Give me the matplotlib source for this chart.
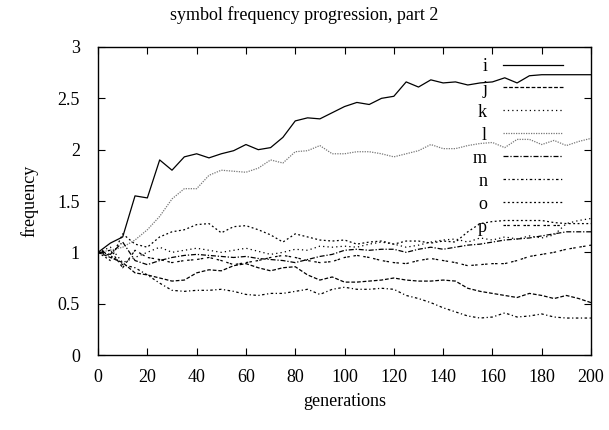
import matplotlib
matplotlib.use("Agg")
import matplotlib.pyplot as plt

# --- data (every 5 generations) ---
generations = list(range(0, 201, 5))

freq_i = [1.00, 1.09, 1.15, 1.55, 1.53, 1.90, 1.80, 1.93, 1.96, 1.92, 1.96,
          1.99, 2.05, 2.00, 2.02, 2.12, 2.28, 2.31, 2.30, 2.36, 2.42, 2.46,
          2.44, 2.50, 2.52, 2.66, 2.61, 2.68, 2.65, 2.66, 2.63, 2.65, 2.66,
          2.70, 2.65, 2.72, 2.73, 2.73, 2.73, 2.73, 2.73]
freq_j = [1.00, 0.95, 0.90, 0.80, 0.78, 0.75, 0.72, 0.73, 0.80, 0.83, 0.82,
          0.87, 0.89, 0.85, 0.82, 0.85, 0.86, 0.78, 0.73, 0.76, 0.71, 0.71,
          0.72, 0.73, 0.75, 0.73, 0.72, 0.72, 0.73, 0.72, 0.65, 0.62, 0.60,
          0.58, 0.56, 0.60, 0.58, 0.55, 0.58, 0.55, 0.51]
freq_k = [1.00, 1.05, 0.90, 0.95, 1.00, 1.05, 1.00, 1.02, 1.04, 1.02, 1.00,
          1.02, 1.04, 1.01, 0.98, 1.00, 1.03, 1.02, 1.06, 1.05, 1.06, 1.05,
          1.08, 1.10, 1.08, 1.05, 1.07, 1.10, 1.12, 1.13, 1.10, 1.14, 1.12,
          1.15, 1.13, 1.16, 1.14, 1.17, 1.28, 1.31, 1.33]
freq_l = [1.00, 1.02, 1.05, 1.12, 1.22, 1.35, 1.52, 1.62, 1.62, 1.75, 1.80,
          1.79, 1.78, 1.82, 1.90, 1.87, 1.98, 1.99, 2.04, 1.96, 1.96, 1.98,
          1.98, 1.96, 1.93, 1.96, 1.99, 2.05, 2.01, 2.01, 2.04, 2.06, 2.07,
          2.02, 2.10, 2.10, 2.05, 2.09, 2.04, 2.08, 2.11]
freq_m = [1.00, 0.98, 1.10, 0.92, 0.88, 0.92, 0.95, 0.97, 0.98, 0.97, 0.96,
          0.95, 0.96, 0.94, 0.93, 0.92, 0.90, 0.93, 0.96, 0.98, 1.02, 1.03,
          1.02, 1.03, 1.03, 1.00, 1.03, 1.05, 1.03, 1.05, 1.07, 1.08, 1.10,
          1.12, 1.13, 1.14, 1.16, 1.18, 1.20, 1.20, 1.20]
freq_n = [1.00, 0.97, 0.88, 0.85, 0.78, 0.70, 0.63, 0.62, 0.63, 0.63, 0.64,
          0.62, 0.59, 0.58, 0.60, 0.60, 0.62, 0.64, 0.59, 0.64, 0.66, 0.64,
          0.64, 0.65, 0.64, 0.58, 0.55, 0.51, 0.46, 0.42, 0.38, 0.36, 0.37,
          0.41, 0.37, 0.38, 0.40, 0.37, 0.36, 0.36, 0.36]
freq_o = [1.00, 0.92, 1.18, 1.08, 1.05, 1.15, 1.20, 1.22, 1.27, 1.28, 1.19,
          1.25, 1.26, 1.22, 1.17, 1.10, 1.18, 1.15, 1.12, 1.11, 1.12, 1.08,
          1.10, 1.11, 1.08, 1.11, 1.11, 1.09, 1.11, 1.10, 1.20, 1.28, 1.30,
          1.31, 1.31, 1.31, 1.31, 1.29, 1.28, 1.28, 1.28]
freq_p = [1.00, 1.02, 0.85, 1.02, 0.95, 0.93, 0.90, 0.92, 0.93, 0.95, 0.92,
          0.88, 0.90, 0.92, 0.95, 0.97, 0.95, 0.92, 0.90, 0.91, 0.95, 0.97,
          0.95, 0.92, 0.90, 0.89, 0.92, 0.94, 0.92, 0.90, 0.87, 0.88, 0.89,
          0.89, 0.92, 0.96, 0.98, 1.00, 1.03, 1.05, 1.07]

symbols = ['i', 'j', 'k', 'l', 'm', 'n', 'o', 'p']
series = [freq_i, freq_j, freq_k, freq_l, freq_m, freq_n, freq_o, freq_p]

# gnuplot-ish dash patterns
styles = [
    ('black', '-'),
    ('black', (0, (3, 1.5))),
    ('black', (0, (1, 2.5))),
    ('#777777', (0, (1, 1))),
    ('black', (0, (4, 1.5, 1, 1.5))),
    ('black', (0, (2, 2, 1, 2))),
    ('black', (0, (1.5, 2))),
    ('black', (0, (2, 1, 2, 3))),
]

plt.rcParams['font.family'] = ['Liberation Serif', 'DejaVu Serif']

fig = plt.figure(figsize=(6.09, 4.30), dpi=100)
ax = fig.add_axes([0.161, 0.1744, 0.8095, 0.7163])

for name, ys, (col, ls) in zip(symbols, series, styles):
    ax.plot(generations, ys, color=col, linestyle=ls, linewidth=0.9, label=name)

ax.set_xlim(0, 200)
ax.set_ylim(0, 3)
ax.set_xticks(range(0, 201, 20))
ax.set_yticks([0, 0.5, 1, 1.5, 2, 2.5, 3])
ax.set_yticklabels(['0', '0.5', '1', '1.5', '2', '2.5', '3'])
ax.tick_params(direction='in', top=True, right=True, length=5, width=0.8,
               labelsize=13)
ax.tick_params(axis='x', pad=10)
ax.tick_params(axis='y', pad=13)
for sp in ax.spines.values():
    sp.set_linewidth(1.0)

ax.set_xlabel('generations', fontsize=13, labelpad=5)
ax.set_ylabel('frequency', fontsize=13, labelpad=14)
# gnuplot centres the title on the whole canvas
fig.text(0.5, 0.965, 'symbol frequency progression, part 2', fontsize=13,
         ha='center', va='center')

leg = ax.legend(loc='upper right', bbox_to_anchor=(0.965, 1.0), frameon=False,
                markerfirst=False, fontsize=13, handlelength=3.3,
                handletextpad=0.9, labelspacing=0.33, borderaxespad=0.2)

fig.savefig('out.png', dpi=100)
